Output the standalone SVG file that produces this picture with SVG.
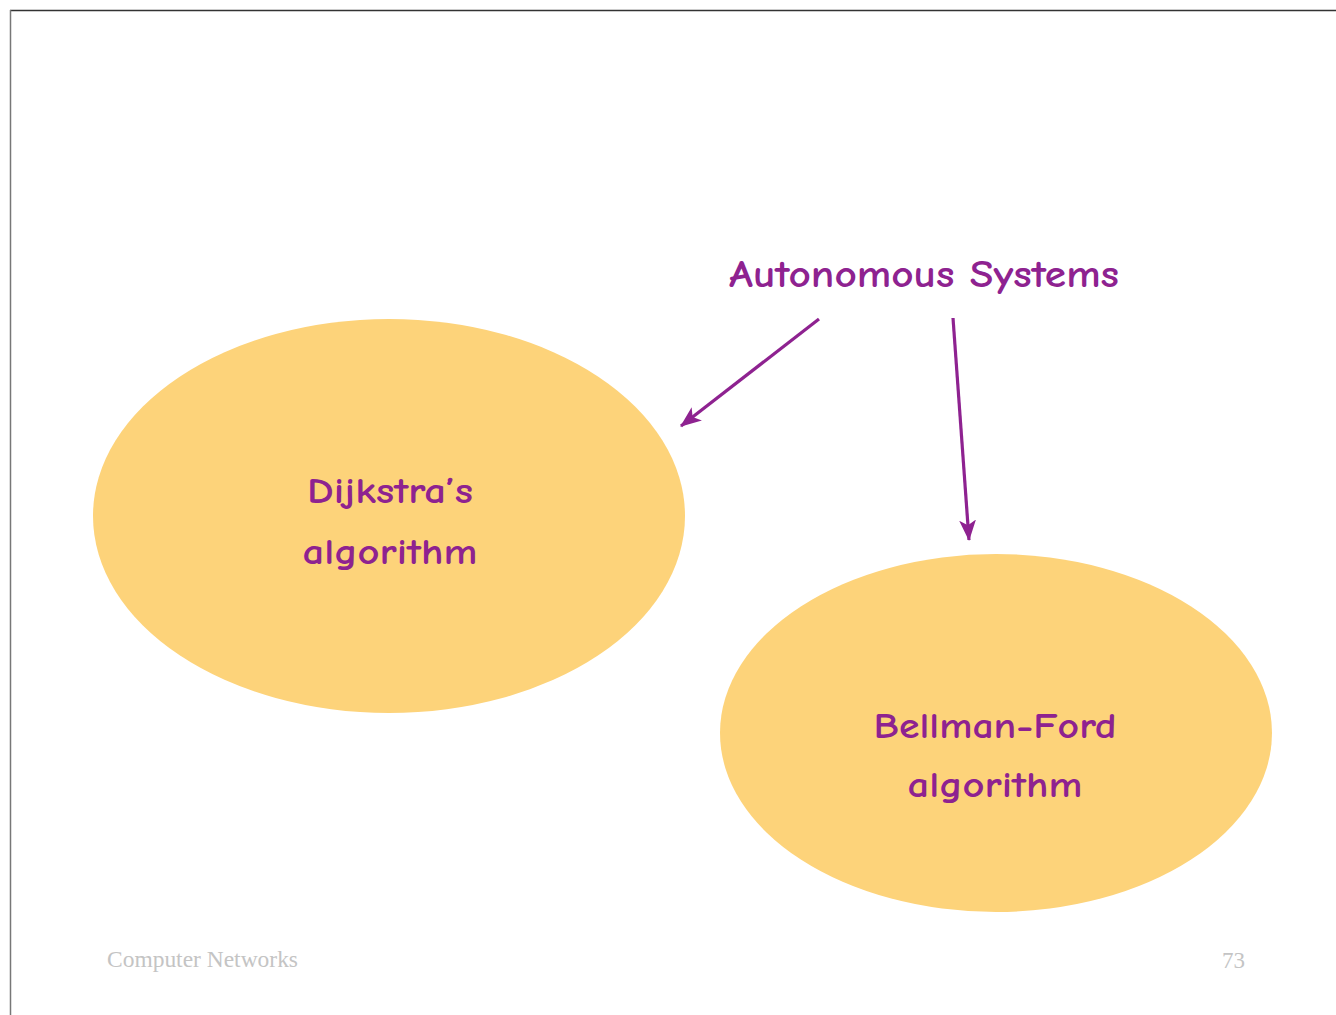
<svg xmlns="http://www.w3.org/2000/svg" width="1336" height="1015" viewBox="0 0 1336 1015">
<style>
.node{fill:#FDD37A;}
.lbl{font-family:"Comic Sans MS","Comic Neue","Noto Sans",sans-serif;fill:#8E2290;text-anchor:middle;font-weight:bold;}
.conn{stroke:#8E2290;stroke-width:3.2;fill:none;marker-end:url(#ah);}
.foot{font-family:"Liberation Serif",serif;fill:#C4C4C4;font-size:23px;}
</style>
<defs>
<marker id="ah" viewBox="0 0 20 16" refX="19" refY="8" markerWidth="21" markerHeight="17" markerUnits="userSpaceOnUse" orient="auto">
<path d="M0,0 L20,8 L0,16 L5,8 Z" fill="#8E2290"/>
</marker>
</defs>
<rect width="1336" height="1015" fill="#FFFFFF"/>
<line x1="10" y1="10.5" x2="1336" y2="10.5" stroke="#333333" stroke-width="1.5"/>
<line x1="10.5" y1="10" x2="10.5" y2="1015" stroke="#777777" stroke-width="1.5"/>
<g id="as">
<text class="lbl" x="924" y="287" font-size="38" textLength="390" lengthAdjust="spacingAndGlyphs">Autonomous Systems</text>
</g>
<g id="dijkstra">
<ellipse class="node" cx="389" cy="516" rx="296" ry="197"/>
<text class="lbl" x="390" y="503" font-size="36" textLength="166" lengthAdjust="spacingAndGlyphs">Dijkstra’s</text>
<text class="lbl" x="390" y="564" font-size="36" textLength="175" lengthAdjust="spacingAndGlyphs">algorithm</text>
</g>
<g id="bellman">
<ellipse class="node" cx="996" cy="733" rx="276" ry="179"/>
<text class="lbl" x="995" y="738" font-size="36" textLength="243" lengthAdjust="spacingAndGlyphs">Bellman-Ford</text>
<text class="lbl" x="995" y="797" font-size="36" textLength="175" lengthAdjust="spacingAndGlyphs">algorithm</text>
</g>
<g id="connectors">
<line class="conn" x1="819" y1="319" x2="681" y2="426"/>
<line class="conn" x1="953" y1="318" x2="969" y2="540"/>
</g>
<g id="footer">
<text class="foot" x="107" y="967" textLength="191" lengthAdjust="spacingAndGlyphs">Computer Networks</text>
<text class="foot" x="1245" y="968" text-anchor="end">73</text>
</g>
</svg>
